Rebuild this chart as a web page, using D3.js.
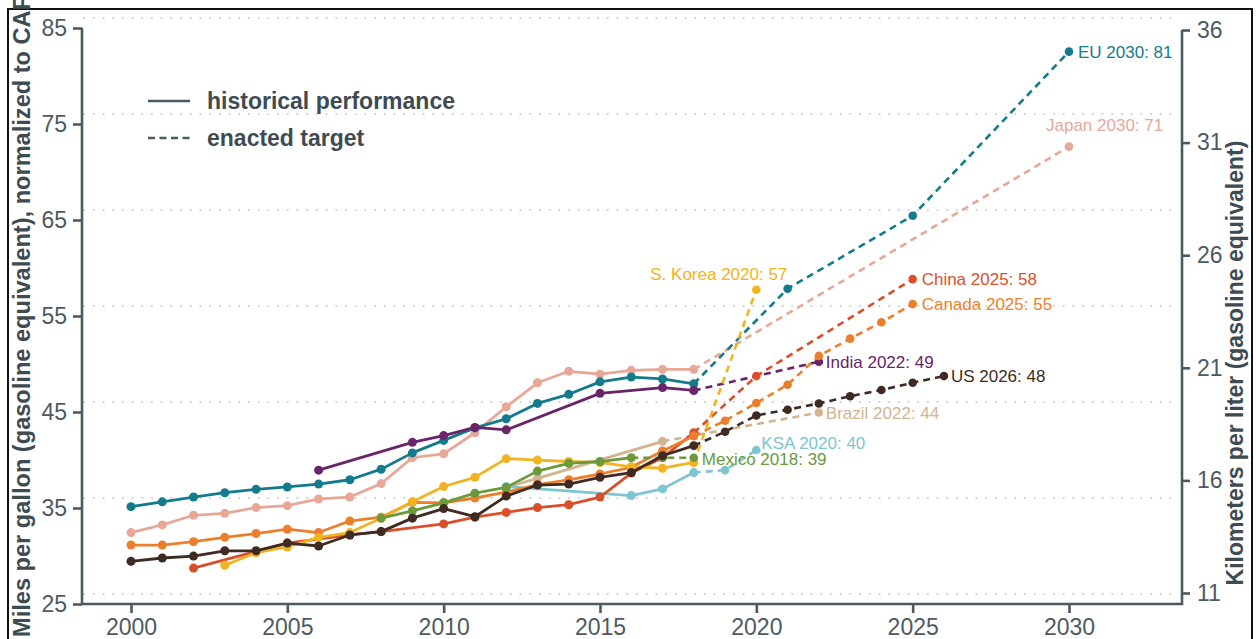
<!DOCTYPE html>
<html>
<head>
<meta charset="utf-8">
<script src="https://cdn.jsdelivr.net/npm/d3@7/dist/d3.min.js"></script>
<style>
  html, body { margin: 0; padding: 0; background: #ffffff; }
  svg { display: block; font-family: "Liberation Sans", Arial, Helvetica, sans-serif; }
</style>
</head>
<body>
<script>
// ---------------- DATA ----------------
const leftTicks = [25, 35, 45, 55, 65, 75, 85];
const rightTicks = [11, 16, 21, 26, 31, 36];
const xTicks = [2000, 2005, 2010, 2015, 2020, 2025, 2030];

const euYears = [2000,2001,2002,2003,2004,2005,2006,2007,2008,2009,2010,2011,2012,2013,2014,2015,2016,2017,2018];
const euValues = [34.1,34.6,35.1,35.55,35.9,36.15,36.45,36.9,38.0,39.7,41.0,42.3,43.25,44.85,45.8,47.1,47.6,47.4,46.9];
const euTargetYears = [2018,2021,2025,2030];
const euTargetValues = [46.9,56.8,64.4,81.5];

const japanYears = [2000,2001,2002,2003,2004,2005,2006,2007,2008,2009,2010,2011,2012,2013,2014,2015,2016,2017,2018];
const japanValues = [31.4,32.2,33.2,33.4,34.0,34.2,34.9,35.1,36.5,39.2,39.6,41.8,44.5,47.0,48.2,47.9,48.3,48.4,48.4];
const japanTargetYears = [2018,2030];
const japanTargetValues = [48.4,71.6];

const indiaYears = [2006,2009,2010,2011,2012,2015,2017,2018];
const indiaValues = [37.9,40.8,41.5,42.35,42.1,45.9,46.5,46.2];
const indiaTargetYears = [2018,2022];
const indiaTargetValues = [46.2,49.2];

const chinaYears = [2002,2005,2007,2008,2010,2011,2012,2013,2014,2015,2016,2017,2018];
const chinaValues = [27.7,30.3,31.15,31.5,32.3,33.0,33.5,34.0,34.3,35.1,37.6,39.2,41.8];
const chinaTargetYears = [2018,2020,2025];
const chinaTargetValues = [41.8,47.7,57.8];

const canadaYears = [2000,2001,2002,2003,2004,2005,2006,2007,2008,2009,2010,2011,2012,2013,2014,2015,2016,2017,2018];
const canadaValues = [30.1,30.1,30.45,30.9,31.3,31.75,31.4,32.6,33.0,34.55,34.5,35.0,35.6,36.4,36.9,37.5,38.2,39.9,41.45];
const canadaTargetYears = [2018,2019,2020,2021,2022,2023,2024,2025];
const canadaTargetValues = [41.45,43.05,44.9,46.8,49.8,51.6,53.3,55.2];

const usYears = [2000,2001,2002,2003,2004,2005,2006,2007,2008,2009,2010,2011,2012,2013,2014,2015,2016,2017,2018];
const usValues = [28.4,28.75,28.95,29.5,29.5,30.3,30.0,31.15,31.5,32.9,33.9,33.05,35.2,36.35,36.45,37.15,37.65,39.4,40.45];
const usTargetYears = [2018,2019,2020,2021,2022,2023,2024,2025,2026];
const usTargetValues = [40.45,41.9,43.6,44.2,44.85,45.6,46.25,47.0,47.7];

const koreaYears = [2003,2004,2005,2006,2007,2008,2009,2010,2011,2012,2013,2014,2015,2016,2017,2018];
const koreaValues = [28.0,29.3,29.9,30.9,31.4,32.9,34.6,36.2,37.15,39.1,38.95,38.8,38.7,38.25,38.1,38.7];
const koreaTargetYears = [2018,2020];
const koreaTargetValues = [38.7,56.7];

const mexicoYears = [2008,2009,2010,2011,2012,2013,2014,2015,2016];
const mexicoValues = [32.9,33.65,34.5,35.5,36.1,37.8,38.6,38.8,39.2];
const mexicoTargetYears = [2016,2017,2018];
const mexicoTargetValues = [39.2,39.2,39.2];

const brazilYears = [2012,2013,2017];
const brazilValues = [36.1,37.05,40.9];
const brazilTargetYears = [2017,2022];
const brazilTargetValues = [40.9,43.9];

const ksaYears = [2012,2016,2017,2018];
const ksaValues = [36.2,35.25,35.95,37.65];
const ksaTargetYears = [2018,2019,2020];
const ksaTargetValues = [37.65,37.9,40.0];

const labelTexts = {
  EU: "EU 2030: 81", Japan: "Japan 2030: 71", India: "India 2022: 49", China: "China 2025: 58",
  Canada: "Canada 2025: 55", US: "US 2026: 48", Korea: "S. Korea 2020: 57", Mexico: "Mexico 2018: 39",
  Brazil: "Brazil 2022: 44", KSA: "KSA 2020: 40"
};

// ---------------- STYLE / LAYOUT ----------------
const series = [
  {key:"Brazil", color:"#d3b48f", hy:brazilYears, hv:brazilValues, ty:brazilTargetYears, tv:brazilTargetValues},
  {key:"KSA",    color:"#7cc5d1", hy:ksaYears, hv:ksaValues, ty:ksaTargetYears, tv:ksaTargetValues},
  {key:"Japan",  color:"#e8a898", hy:japanYears, hv:japanValues, ty:japanTargetYears, tv:japanTargetValues},
  {key:"EU",     color:"#137b8b", hy:euYears, hv:euValues, ty:euTargetYears, tv:euTargetValues},
  {key:"India",  color:"#6a2468", hy:indiaYears, hv:indiaValues, ty:indiaTargetYears, tv:indiaTargetValues},
  {key:"China",  color:"#d94f2c", hy:chinaYears, hv:chinaValues, ty:chinaTargetYears, tv:chinaTargetValues},
  {key:"Canada", color:"#ec7f2b", hy:canadaYears, hv:canadaValues, ty:canadaTargetYears, tv:canadaTargetValues},
  {key:"Korea",  color:"#f2b320", hy:koreaYears, hv:koreaValues, ty:koreaTargetYears, tv:koreaTargetValues},
  {key:"Mexico", color:"#6b9a3c", hy:mexicoYears, hv:mexicoValues, ty:mexicoTargetYears, tv:mexicoTargetValues},
  {key:"US",     color:"#3f2b22", hy:usYears, hv:usValues, ty:usTargetYears, tv:usTargetValues}
];
const labelLayout = {
  EU: {dx: 9, dy: 0, anchor: "start"},
  Japan: {dx: -23, dy: -22, anchor: "start"},
  India: {dx: 7, dy: 0, anchor: "start"},
  China: {dx: 9, dy: 0, anchor: "start"},
  Canada: {dx: 9, dy: 0, anchor: "start"},
  US: {dx: 7, dy: 0, anchor: "start"},
  Korea: {dx: 31, dy: -16, anchor: "end"},
  Mexico: {dx: 8, dy: 1, anchor: "start"},
  Brazil: {dx: 7, dy: 0, anchor: "start"},
  KSA: {dx: 5, dy: -7, anchor: "start"}
};

const W = 1256, H = 639;
const axisColor = "#4b5a60", tickText = "#4d5a60", titleColor = "#3e4c52";

const svg = d3.select("body").append("svg").attr("width", W).attr("height", H);

// frame
svg.append("rect").attr("x", 8).attr("y", 9).attr("width", 1244).attr("height", 660)
  .attr("fill", "none").attr("stroke", "#111").attr("stroke-width", 2);

const x = d3.scaleLinear().domain([2000, 2030]).range([131, 1069]);
const y = d3.scaleLinear().domain([25, 85]).range([594, 18]);
const yAxisL = d3.scaleLinear().domain([25, 85]).range([604, 28]);
const yAxisR = d3.scaleLinear().domain([11, 36]).range([593, 30]);

// gridlines
svg.append("g").selectAll("line").data(leftTicks).join("line")
  .attr("x1", 84).attr("x2", 1180)
  .attr("y1", d => y(d)).attr("y2", d => y(d))
  .attr("stroke", "#cdcdcd").attr("stroke-width", 2)
  .attr("stroke-dasharray", "0.1,9.6").attr("stroke-linecap", "round");

// axes
function styleAxis(g) {
  g.selectAll(".domain").remove();
  g.selectAll(".tick line").attr("stroke", axisColor).attr("stroke-width", 2.6);
  g.selectAll(".tick text").attr("fill", tickText).style("font-size", "23px")
    .style("font-family", "'Liberation Sans', Arial, sans-serif");
}
const gL = svg.append("g").attr("transform", "translate(82,0)")
  .call(d3.axisLeft(yAxisL).tickValues(leftTicks).tickSize(9).tickPadding(6).tickSizeOuter(0));
styleAxis(gL);
const gB = svg.append("g").attr("transform", "translate(0,604)")
  .call(d3.axisBottom(x).tickValues(xTicks).tickFormat(d3.format("d")).tickSize(9).tickPadding(6).tickSizeOuter(0));
styleAxis(gB);
const gR = svg.append("g").attr("transform", "translate(1182,0)")
  .call(d3.axisRight(yAxisR).tickValues(rightTicks).tickSize(8).tickPadding(7).tickSizeOuter(0));
styleAxis(gR);

svg.append("path").attr("d", `M82,${yAxisL(85)}V604H1182V${yAxisR(36)}`)
  .attr("fill", "none").attr("stroke", axisColor).attr("stroke-width", 2.6);

// axis titles
svg.append("text").attr("transform", "translate(30,637) rotate(-90)")
  .attr("text-anchor", "start").attr("fill", titleColor)
  .style("font-size", "23.6px").style("font-weight", "bold")
  .text("Miles per gallon (gasoline equivalent), normalized to CAFE");
svg.append("text").attr("transform", "translate(1243,363) rotate(-90)")
  .attr("text-anchor", "middle").attr("fill", titleColor)
  .style("font-size", "23px").style("font-weight", "bold")
  .text("Kilometers per liter (gasoline equivalent)");

// legend
const leg = svg.append("g");
leg.append("line").attr("x1", 148).attr("x2", 190).attr("y1", 101).attr("y2", 101)
  .attr("stroke", axisColor).attr("stroke-width", 2.6);
leg.append("line").attr("x1", 148).attr("x2", 190).attr("y1", 138).attr("y2", 138)
  .attr("stroke", axisColor).attr("stroke-width", 2.6).attr("stroke-dasharray", "7,4.5");
leg.append("text").attr("x", 207).attr("y", 101).attr("dy", "0.35em").attr("fill", titleColor)
  .style("font-size", "23px").style("font-weight", "bold").text("historical performance");
leg.append("text").attr("x", 207).attr("y", 138).attr("dy", "0.35em").attr("fill", titleColor)
  .style("font-size", "23px").style("font-weight", "bold").text("enacted target");

// series
const line = d3.line().x(d => x(d[0])).y(d => y(d[1]));
const plot = svg.append("g");
series.forEach(s => {
  const hist = s.hy.map((yr, i) => [yr, s.hv[i]]);
  const targ = s.ty.map((yr, i) => [yr, s.tv[i]]);
  const g = plot.append("g");
  g.append("path").datum(targ).attr("d", line).attr("fill", "none")
    .attr("stroke", s.color).attr("stroke-width", 2.6).attr("stroke-dasharray", "7,5");
  g.append("path").datum(hist).attr("d", line).attr("fill", "none")
    .attr("stroke", s.color).attr("stroke-width", 2.8).attr("stroke-linejoin", "round");
  g.selectAll("circle.t").data(targ.slice(1)).join("circle").attr("class", "t")
    .attr("cx", d => x(d[0])).attr("cy", d => y(d[1])).attr("r", 4.3).attr("fill", s.color);
  g.selectAll("circle.h").data(hist).join("circle").attr("class", "h")
    .attr("cx", d => x(d[0])).attr("cy", d => y(d[1])).attr("r", 4.5).attr("fill", s.color);
});

// end labels
series.forEach(s => {
  const lx = s.ty[s.ty.length - 1], lv = s.tv[s.tv.length - 1];
  const L = labelLayout[s.key];
  svg.append("text").attr("x", x(lx) + L.dx).attr("y", y(lv) + L.dy).attr("dy", "0.35em")
    .attr("text-anchor", L.anchor).attr("fill", s.color)
    .style("font-size", "17px").text(labelTexts[s.key]);
});
</script>
</body>
</html>
